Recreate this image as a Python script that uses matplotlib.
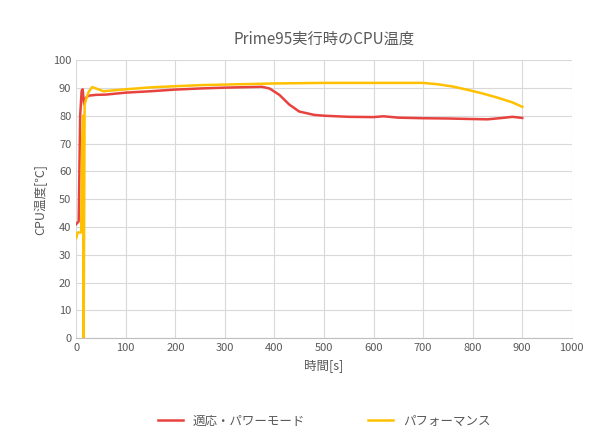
import matplotlib.pyplot as plt
import numpy as np

plt.rcParams['font.family'] = ['Noto Sans CJK JP']

t_red = [0, 5, 8, 11, 13, 16, 20, 25, 40, 60, 100, 150, 200, 250, 300, 350, 375, 390, 410, 430, 450, 480, 500, 550, 600, 620, 650, 700, 750, 800, 830, 860, 880, 900]
y_red = [41, 42, 80, 89, 89.5, 84, 86.5, 87.2, 87.5, 87.6, 88.3, 88.8, 89.4, 89.8, 90.1, 90.3, 90.4, 89.8, 87.5, 84, 81.5, 80.3, 80.0, 79.6, 79.5, 79.8, 79.3, 79.1, 79.0, 78.8, 78.7, 79.2, 79.6, 79.2]
t_yel = [0, 3, 10, 12, 14, 15, 17, 20, 25, 32, 40, 55, 80, 100, 150, 200, 250, 300, 350, 400, 450, 500, 600, 700, 730, 760, 790, 820, 850, 880, 900]
y_yel = [36, 38, 38, 70, 80, 0, 84, 86, 88.5, 90.3, 89.8, 88.8, 89.2, 89.5, 90.2, 90.6, 91.0, 91.2, 91.4, 91.6, 91.7, 91.8, 91.8, 91.8, 91.3, 90.5, 89.3, 88.0, 86.5, 84.8, 83.2]

fig, ax = plt.subplots(figsize=(6, 4.42), dpi=100)
fig.subplots_adjust(left=0.127, right=0.953, top=0.864, bottom=0.235)
ax.plot(t_red, y_red, color='#e8423f', lw=1.8, label='適応・パワーモード')
ax.plot(t_yel, y_yel, color='#ffc000', lw=1.8, label='パフォーマンス')
ax.set_xlim(0, 1000)
ax.set_ylim(0, 100)
ax.set_xticks(range(0, 1001, 100))
ax.set_yticks(range(0, 101, 10))
ax.grid(color='#d9d9d9', lw=0.8)
ax.set_axisbelow(True)
for s in ['top', 'right', 'left']:
    ax.spines[s].set_visible(False)
ax.spines['bottom'].set_color('#bfbfbf')
ax.tick_params(length=0, labelsize=8, colors='#595959')
ax.set_title('Prime95実行時のCPU温度', fontsize=11, color='#595959', pad=12)
ax.set_xlabel('時間[s]', fontsize=9, color='#595959')
ax.set_ylabel('CPU温度[℃]', fontsize=9, color='#595959')
ax.legend(loc='upper center', bbox_to_anchor=(0.5, -0.235), ncol=2, frameon=False,
          fontsize=9, labelcolor='#595959', columnspacing=5)
fig.savefig('out.png')
